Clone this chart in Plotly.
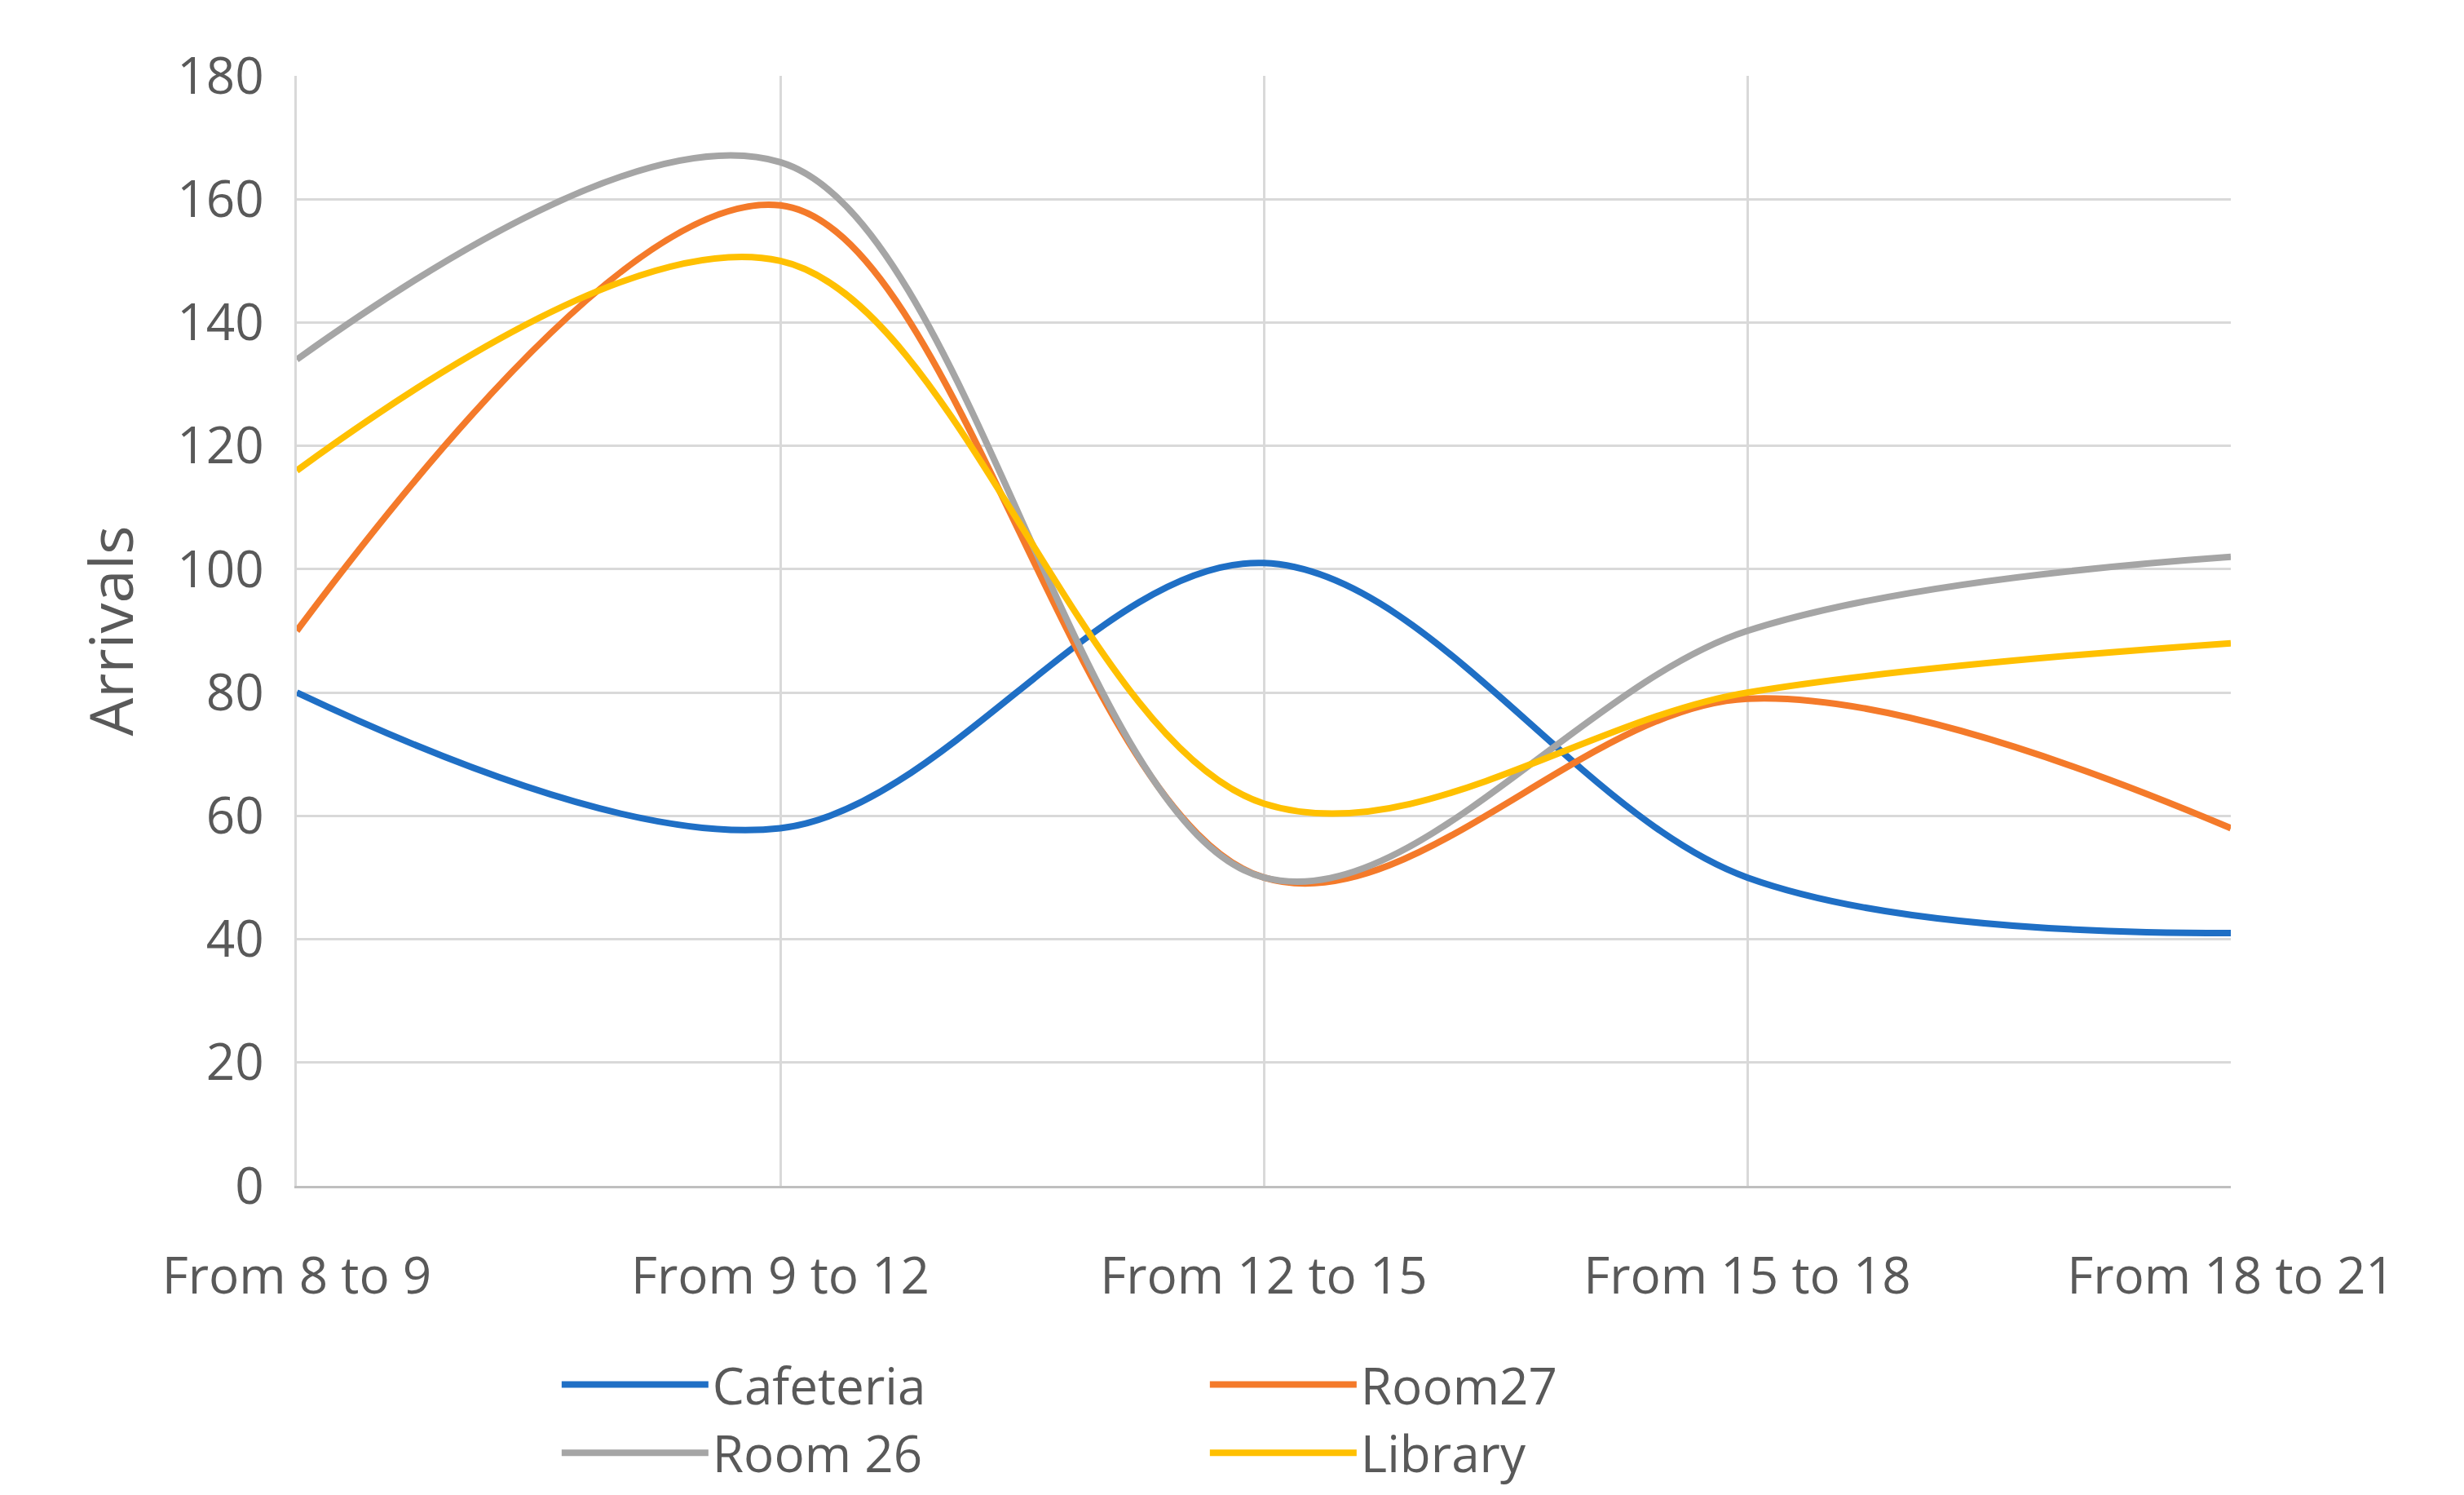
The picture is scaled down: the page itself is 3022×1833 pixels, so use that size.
import plotly.graph_objects as go

categories = ["From 8 to 9", "From 9 to 12", "From 12 to 15", "From 15 to 18", "From 18 to 21"]
cafeteria = [80, 58, 101, 50, 41]
room27 = [90, 159, 50, 79, 58]
room26 = [134, 166, 50, 90, 102]
library = [116, 150, 62, 80, 88]

series = [("Cafeteria", cafeteria, "#1f6fc5"), ("Room27", room27, "#f47a2a"),
          ("Room 26", room26, "#a5a5a5"), ("Library", library, "#ffc000")]

fig = go.Figure()
for name, vals, col in series:
    fig.add_trace(go.Scatter(x=list(range(len(categories))), y=vals, name=name, mode="lines",
                             line=dict(color=col, width=8, shape="spline", smoothing=1.0)))

fig.update_layout(
    width=3022, height=1833, paper_bgcolor="white", plot_bgcolor="white",
    margin=dict(l=356, r=294, t=85, b=330),
    font=dict(family="Open Sans", size=62, color="#595959"),
    legend=dict(orientation="h", x=0.47, xanchor="center", y=-0.21, yanchor="middle",
                font=dict(size=62), itemwidth=180, entrywidth=600, entrywidthmode="pixels"),
    xaxis=dict(tickmode="array", tickvals=list(range(len(categories))), ticktext=categories,
               range=[0, 4], showgrid=True, gridcolor="#d9d9d9", gridwidth=3,
               showline=True, linecolor="#bfbfbf", linewidth=3, zeroline=False,
               mirror=False, ticks="", ticklabelstandoff=55),
    yaxis=dict(range=[0, 180], dtick=20, showgrid=True, gridcolor="#d9d9d9", gridwidth=3,
               zeroline=False, showline=True, linecolor="#d9d9d9", linewidth=3,
               title=dict(text="Arrivals", standoff=30), ticks="", ticklabelstandoff=25),
)
fig.write_html("out.html")
